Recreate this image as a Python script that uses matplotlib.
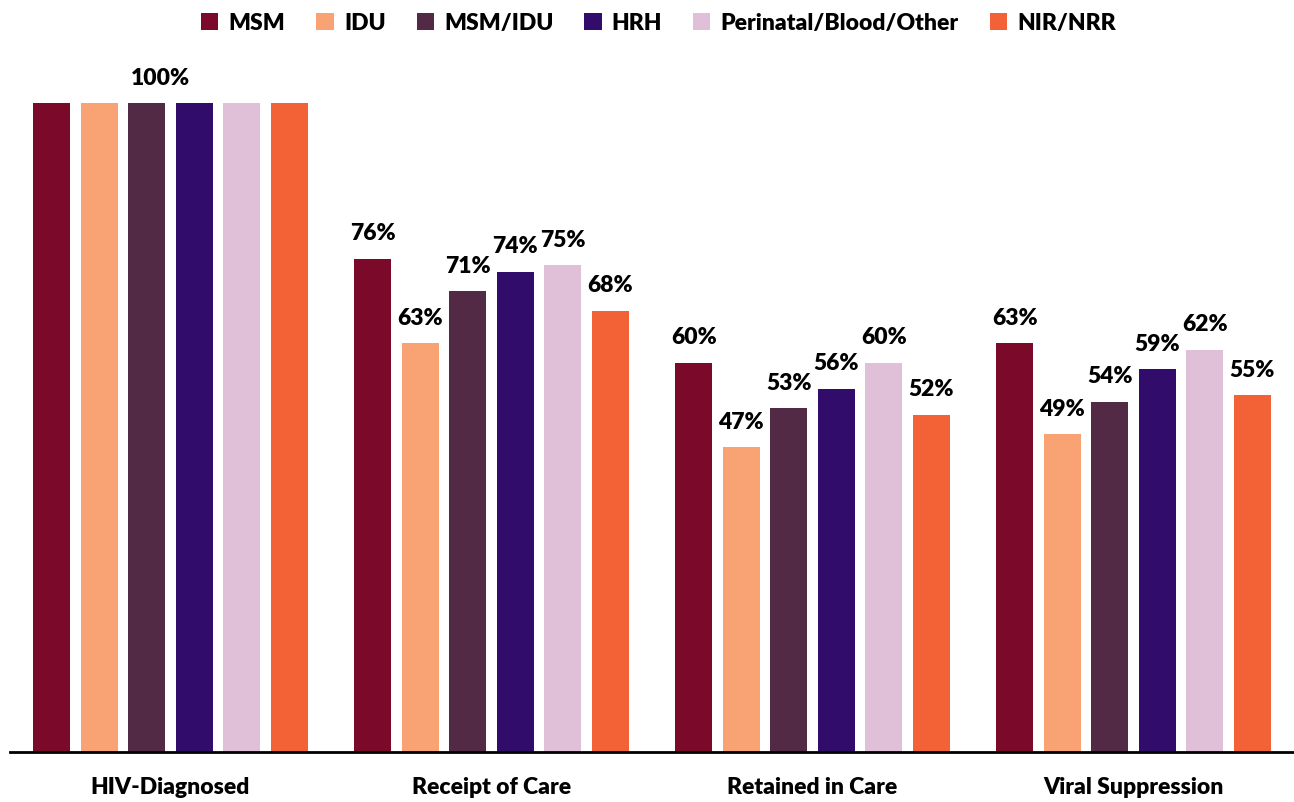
import matplotlib
matplotlib.use("Agg")
import matplotlib.pyplot as plt
import numpy as np

categories = ["HIV-Diagnosed", "Receipt of Care", "Retained in Care", "Viral Suppression"]
series_names = ["MSM", "IDU", "MSM/IDU", "HRH", "Perinatal/Blood/Other", "NIR/NRR"]
msm = [100, 76, 60, 63]
idu = [100, 63, 47, 49]
msm_idu = [100, 71, 53, 54]
hrh = [100, 74, 56, 59]
perinatal = [100, 75, 60, 62]
nir = [100, 68, 52, 55]
series_values = [msm, idu, msm_idu, hrh, perinatal, nir]
colors = ["#7B0A2A", "#F9A375", "#522A45", "#310C6A", "#E0C0D8", "#F26236"]

plt.rcParams['font.family'] = ['Lato', 'DejaVu Sans']
FS = 16.5
FW = "heavy"
fig = plt.figure(figsize=(12.94, 8.02), dpi=100)
ax = fig.add_axes([10/1294, 50/802, 1284/1294, 649/802])

x = np.arange(len(categories))
width = 0.115
pitch = 0.148
n = len(series_names)
for i, (name, vals, c) in enumerate(zip(series_names, series_values, colors)):
    offs = (i - (n - 1) / 2) * pitch
    ax.bar(x + offs, vals, width=width, color=c, label=name)
    for j, v in enumerate(vals):
        if j == 0:
            continue
        ax.text(x[j] + offs, v + 2.2, f"{v}%", ha="center", va="bottom",
                fontsize=FS, fontweight=FW, clip_on=False)

ax.text(x[0] - 0.03, 100 + 2.2, "100%", ha="center", va="bottom",
        fontsize=FS, fontweight=FW, clip_on=False)

ax.set_xlim(-0.5, 3.5)
ax.set_ylim(0, 100)
ax.set_yticks([])
ax.set_xticks(x)
ax.set_xticklabels(categories, fontsize=FS, fontweight=FW)
ax.tick_params(axis="x", length=0, pad=18)
for s in ["top", "right", "left"]:
    ax.spines[s].set_visible(False)
ax.spines["bottom"].set_linewidth(2)
ax.spines["bottom"].set_color("black")

leg = fig.legend(loc="upper center", bbox_to_anchor=(0.509, 1.01), ncol=6, frameon=False,
                 prop={"size": FS, "weight": FW}, handlelength=0.75, handleheight=0.75,
                 handletextpad=0.45, columnspacing=1.35)

fig.savefig("out.png", dpi=100)
